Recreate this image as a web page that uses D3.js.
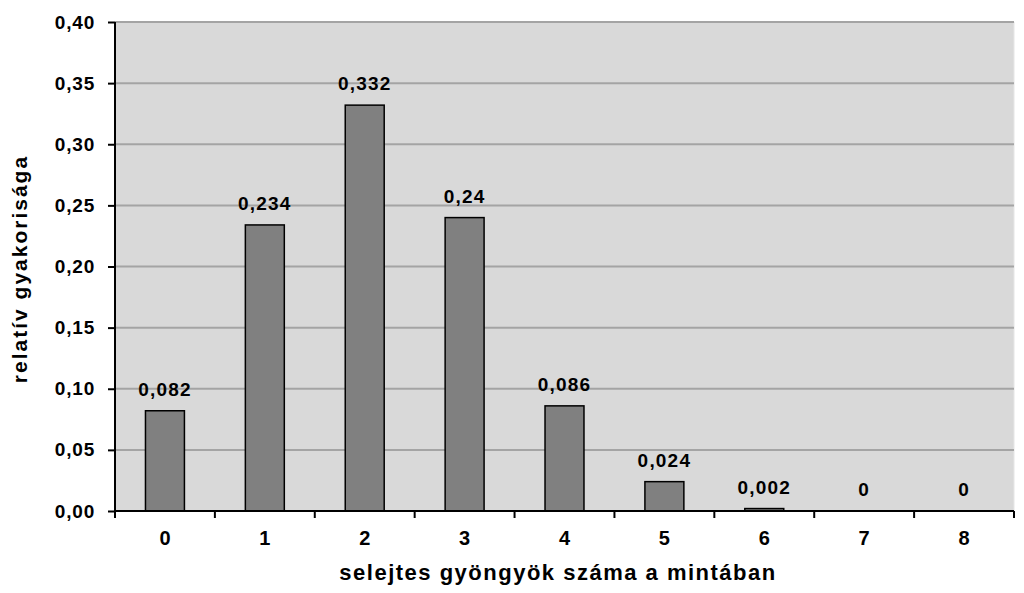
<!DOCTYPE html>
<html><head><meta charset="utf-8">
<script src="https://cdn.jsdelivr.net/npm/d3@7"></script>
<style>body{margin:0;background:#fff}svg{display:block}text{font-family:"Liberation Sans",Arial,sans-serif;font-weight:bold;fill:#000}</style>
</head><body><svg id="c" width="1024" height="593"></svg>
<script>
const categories = ["0","1","2","3","4","5","6","7","8"];
const values = [0.082,0.234,0.332,0.24,0.086,0.024,0.002,0,0];
const valueLabels = ["0,082","0,234","0,332","0,24","0,086","0,024","0,002","0","0"];
const yTicks = [0,0.05,0.10,0.15,0.20,0.25,0.30,0.35,0.40];
const xTitle = "selejtes gyöngyök száma a mintában";
const yTitle = "relatív gyakorisága";

const svg = d3.select("#c");
const L=115,R=1014,T=22,B=511;
const x = d3.scaleBand().domain(categories).range([L,R]).paddingInner(0.61).paddingOuter(0.305);
const y = d3.scaleLinear().domain([0,0.4]).range([B,T]);

svg.append("rect").attr("x",L).attr("y",T).attr("width",R-L).attr("height",B-T).attr("fill","#d9d9d9");
svg.append("line").attr("x1",R).attr("x2",R).attr("y1",T).attr("y2",B).attr("stroke","#e6e6e6").attr("stroke-width",1);
svg.append("g").selectAll("line").data(yTicks.filter(d=>d>0)).join("line")
  .attr("x1",L).attr("x2",R).attr("y1",d=>y(d)).attr("y2",d=>y(d)).attr("stroke","#a4a4a4").attr("stroke-width",2);

svg.append("g").selectAll("rect").data(values).join("rect")
  .attr("x",(d,i)=>x(categories[i])).attr("width",x.bandwidth())
  .attr("y",d=>y(d)).attr("height",d=>B-y(d))
  .attr("fill","#808080").attr("stroke","#000").attr("stroke-width",1.5);

svg.append("g").selectAll("text").data(values).join("text")
  .attr("x",(d,i)=>x(categories[i])+x.bandwidth()/2).attr("y",d=>y(d)-15)
  .attr("text-anchor","middle").attr("font-size",19).attr("letter-spacing",1.2).text((d,i)=>valueLabels[i]);

const fmt = d=>d.toFixed(2).replace(".",",");
const ya = svg.append("g").attr("transform",`translate(${L},0)`)
  .call(d3.axisLeft(y).tickValues(yTicks).tickFormat(fmt).tickSize(7).tickPadding(13));
ya.select(".domain").attr("stroke-width",2).attr("d",`M0,${T}V${B}`);
ya.selectAll(".tick line").attr("stroke-width",2);
ya.selectAll("text").attr("font-size",19).attr("letter-spacing",0.8).attr("font-family","Liberation Sans, Arial, sans-serif").attr("font-weight","bold");

const xa = svg.append("g").attr("transform",`translate(0,${B})`)
  .call(d3.axisBottom(x).tickSize(0).tickPadding(20));
xa.select(".domain").attr("stroke-width",2).attr("d",`M${L},0H${R}`);
xa.selectAll("text").attr("font-size",20).attr("font-family","Liberation Sans, Arial, sans-serif").attr("font-weight","bold");
const bounds = categories.map(c=>x(c)-x.step()*x.paddingInner()/2).concat([R]);
xa.append("g").selectAll("line").data(bounds).join("line")
  .attr("x1",d=>d).attr("x2",d=>d).attr("y1",0).attr("y2",7).attr("stroke","#000").attr("stroke-width",2);

svg.append("text").attr("x",558).attr("y",580).attr("text-anchor","middle")
  .attr("font-size",22).attr("letter-spacing",1.5).text(xTitle);
svg.append("text").attr("transform",`translate(27,269) rotate(-90)`).attr("text-anchor","middle")
  .attr("font-size",21).attr("letter-spacing",2).text(yTitle);
</script></body></html>
